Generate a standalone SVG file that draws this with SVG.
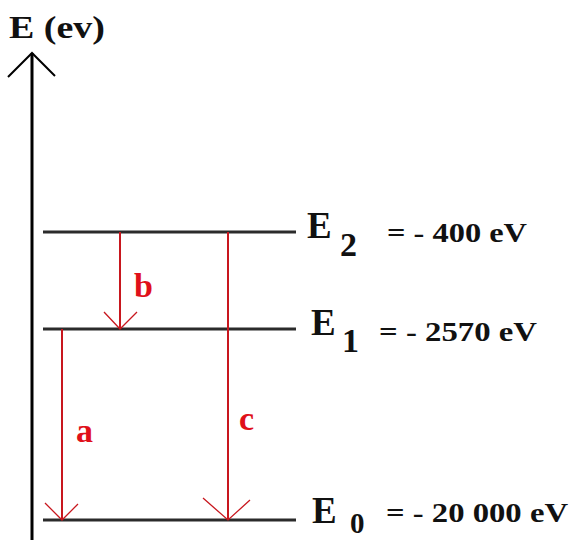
<svg xmlns="http://www.w3.org/2000/svg" width="571" height="540" viewBox="0 0 571 540">
<style>
.lvl{stroke:#2b2b2b;stroke-width:3;fill:none}
.tr{stroke:#c8171e;stroke-width:2;fill:none}
.ah{stroke:#c8171e;stroke-width:1.3;fill:none}
.t{font-family:'Liberation Serif','Times New Roman',serif;font-weight:700;fill:#111}
.big{font-size:37px}
.sub{font-size:34px}
.val{font-size:28px}
.rl{font-family:'Liberation Serif','Times New Roman',serif;font-weight:700;fill:#e0101a;font-size:34px}
</style>
<rect width="571" height="540" fill="#fff"/>
<g id="axis">
<line x1="32" y1="53" x2="32" y2="540" stroke="#000" stroke-width="3"/>
<polyline points="8,77 32,53 55,76" fill="none" stroke="#000" stroke-width="2"/>
<text class="t" x="9" y="38" font-size="31" textLength="96" lengthAdjust="spacingAndGlyphs">E (ev)</text>
</g>
<g id="E2">
<line class="lvl" x1="43" y1="232" x2="296" y2="232"/>
<text class="t big" x="307" y="238">E</text>
<text class="t sub" x="340" y="256">2</text>
<text class="t val" x="387" y="242" textLength="140" lengthAdjust="spacingAndGlyphs">= - 400 eV</text>
</g>
<g id="E1">
<line class="lvl" x1="43" y1="329" x2="296" y2="329"/>
<text class="t big" x="311" y="335">E</text>
<text class="t sub" x="342" y="352">1</text>
<text class="t val" x="379" y="341" textLength="158" lengthAdjust="spacingAndGlyphs">= - 2570 eV</text>
</g>
<g id="E0">
<line class="lvl" x1="43" y1="520" x2="296" y2="520"/>
<text class="t big" x="312" y="523">E</text>
<text class="t" x="350" y="533" font-size="29">0</text>
<text class="t val" x="386" y="522" textLength="182" lengthAdjust="spacingAndGlyphs">= - 20 000 eV</text>
</g>
<g id="connectors">
<line class="tr" x1="120" y1="232" x2="120" y2="329"/>
<polyline class="ah" points="104,312 120,329 137,312"/>
<line class="tr" x1="62" y1="329" x2="62" y2="520"/>
<polyline class="ah" points="45,503 62,520 78,504"/>
<line class="tr" x1="228" y1="232" x2="228" y2="520"/>
<polyline class="ah" points="203,498 228,520 250,500"/>
</g>
<g id="labels">
<text class="rl" x="134" y="297">b</text>
<text class="rl" x="76" y="442">a</text>
<text class="rl" x="239" y="430">c</text>
</g>
</svg>
